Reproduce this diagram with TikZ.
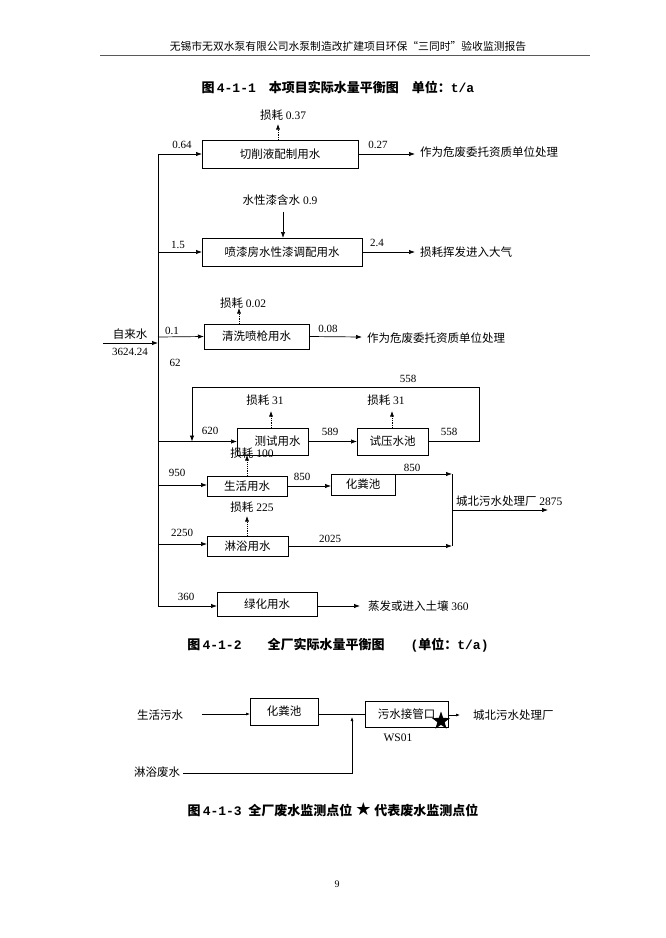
\documentclass[tikz,border=0pt]{standalone}
\usepackage{fontspec}
\setmainfont{Liberation Serif}
\newfontfamily\cjk{Noto Sans CJK SC}
\newfontfamily\monofnt{Liberation Mono}
\newfontfamily\symfnt{DejaVu Sans}
\usetikzlibrary{arrows.meta,shapes.geometric}
\newcommand\zh[1]{{\cjk #1}}
\begin{document}
\begin{tikzpicture}[x=1pt,y=-1pt,
  every node/.style={inner sep=0pt,outer sep=0pt,font=\fontsize{11.5}{13}\selectfont},
  box/.style={draw,line width=0.8pt,font=\cjk\fontsize{11.5}{13}\selectfont},
  flow/.style={line width=0.7pt,-{Latex[length=6pt,width=4.4pt]}},
  plain/.style={line width=0.7pt},
  loss/.style={line width=0.6pt,dash pattern=on 1.2pt off 1pt,-{Latex[length=5.5pt,width=4pt]}},
  lbl/.style={font=\fontsize{11}{12}\selectfont},
  zhs/.style={font=\cjk\fontsize{11.5}{13}\selectfont},
  ttl/.style={font=\cjk\bfseries\fontsize{13}{15}\selectfont}]
\useasboundingbox[fill=white] (0,0) rectangle (665,938);

% header
\node[font=\cjk\fontsize{10.8}{12}\selectfont] (hdr) at (348,46) {无锡市无双水泵有限公司水泵制造改扩建项目环保“三同时”验收监测报告};
\coordinate (hl) at (100,55); \coordinate (hr) at (590,55);
\draw[line width=0.8pt,gray!70!black] (hl) -- (hr);

% title 1
\node[ttl] (t1) at (338,87) {图{\monofnt\bfseries\,4-1-1}\quad 本项目实际水量平衡图\quad 单位：{\monofnt\bfseries t/a}};

% trunk
\coordinate (tTop) at (158,154);
\coordinate (tBot) at (158,607);
\draw[plain] (tTop) -- (tBot);

% boxes
\node[box,minimum width=156,minimum height=28] (b1) at (280,154) {切削液配制用水};
\node[box,minimum width=160,minimum height=28] (b2) at (282,252) {喷漆房水性漆调配用水};
\node[box,minimum width=105,minimum height=25] (b3) at (256.5,336.5) {清洗喷枪用水};
\node[box,minimum width=71,minimum height=27] (bt) at (272.5,441.5) {\hspace{10pt}测试用水};
\node[box,minimum width=71,minimum height=27] (bp) at (392.5,441.5) {试压水池};
\node[box,minimum width=80,minimum height=20] (bl) at (247,486) {生活用水};
\node[box,minimum width=64,minimum height=21] (bs) at (363,484.5) {化粪池};
\node[box,minimum width=81,minimum height=20] (bw) at (247.5,546) {淋浴用水};
\node[box,minimum width=100,minimum height=24] (bg) at (267,604) {绿化用水};

% row 1
\coordinate (r1) at (158,154);
\draw[flow] (r1) -- (b1.west);
\node[lbl] (l064) at (182,145) {0.64};
\coordinate (o1) at (415,154);
\draw[flow] (b1.east) -- (o1);
\node[lbl] (l027) at (378,145) {0.27};
\node[anchor=west,zhs] (d1) at (420,152) {作为危废委托资质单位处理};
\node (s1) at (283,115) {\zh{损耗} 0.37};
\draw[loss] (b1.north -| 278,0) -- (278,124);

% row 2
\node (w2) at (280,200) {\zh{水性漆含水} 0.9};
\draw[flow] (283,212) -- (b2.north -| 283,0);
\coordinate (r2) at (158,252);
\draw[flow] (r2) -- (b2.west);
\node[lbl] (l15) at (178,245) {1.5};
\coordinate (o2) at (415,252);
\draw[flow] (b2.east) -- (o2);
\node[lbl] (l24) at (377,243) {2.4};
\node[anchor=west,zhs] (d2) at (420,252) {损耗挥发进入大气};

% source
\node[zhs] (src) at (130,334) {自来水};
\node[lbl] (srcv) at (130,352) {3624.24};
\coordinate (srcS) at (103,343);
\coordinate (srcT) at (158,343);
\draw[flow] (srcS) -- (srcT);

% row 3
\coordinate (r3) at (158,337);
\draw[flow] (r3) -- (b3.west);
\node[lbl] (l01) at (172,331) {0.1};
\node (s3) at (243,303) {\zh{损耗} 0.02};
\draw[loss] (b3.north -| 239,0) -- (239,308);
\coordinate (o3) at (362,337);
\draw[flow] (b3.east) -- (o3);
\node[lbl] (l008) at (328,329) {0.08};
\node[anchor=west,zhs] (d3) at (367,338) {作为危废委托资质单位处理};
\node[lbl] (l62) at (175,363) {62};

% test loop
\coordinate (rt) at (158,441.5);
\draw[flow] (rt) -- (bt.west);
\node[lbl] (l620) at (210,431) {620};
\draw[flow] (bt.east) -- (bp.west);
\node[lbl] (l589) at (330,432) {589};
\coordinate (lpA) at (479,441.5);
\coordinate (lpB) at (479,387);
\coordinate (lpC) at (192,387);
\coordinate (lpD) at (192,441.5);
\draw[flow] (bp.east) -- (lpA) -- (lpB) -- (lpC) -- (lpD);
\node[lbl] (l558a) at (449,432) {558};
\node[lbl] (l558b) at (408,379) {558};
\node (s31a) at (265,400) {\zh{损耗} 31};
\draw[loss] (bt.north -| 271,0) -- (271,411);
\node (s31b) at (386,400) {\zh{损耗} 31};
\draw[loss] (bp.north -| 392,0) -- (392,411);

% life water
\coordinate (rl) at (158,485);
\draw[flow] (rl) -- (bl.west |- rl);
\node[lbl] (l950) at (177,473) {950};
\draw[loss] (bl.north -| 247,0) -- (bt.south -| 247,0);
\node (s100) at (252,453) {\zh{损耗} 100};
\draw[flow] (bl.east |- 0,486) -- (bs.west |- 0,486);
\node[lbl] (l850a) at (302,477) {850};
\coordinate (jTop) at (452,474);
\coordinate (jBot) at (452,546);
\draw[flow] (bs.north east) -- (jTop);
\node[lbl] (l850b) at (412,468) {850};

% shower
\coordinate (rw) at (158,544);
\draw[flow] (rw) -- (bw.west |- rw);
\node[lbl] (l2250) at (182,533) {2250};
\node (s225) at (252,507) {\zh{损耗} 225};
\draw[loss] (bw.north -| 247,0) -- (247,516);
\draw[flow] (bw.east) -- (jBot);
\node[lbl] (l2025) at (330,539) {2025};
\draw[plain] (jTop) -- (jBot);
\coordinate (jMid) at (452,510);
\coordinate (oJ) at (548,510);
\draw[flow] (jMid) -- (oJ);
\node[anchor=west] (dJ) at (456,501) {\zh{城北污水处理厂} 2875};

% green
\coordinate (rg) at (158,606);
\draw[flow] (rg) -- (bg.west |- rg);
\node[lbl] (l360) at (186,597) {360};
\coordinate (og) at (360,606);
\draw[flow] (bg.east |- og) -- (og);
\node[anchor=west] (dg) at (368,606) {\zh{蒸发或进入土壤} 360};

% title 2
\node[ttl] (t2) at (338,645) {图{\monofnt\bfseries\,4-1-2}\qquad 全厂实际水量平衡图\qquad{\monofnt\bfseries(}单位：{\monofnt\bfseries t/a)}};

% diagram 2
\node[zhs] (ls) at (160,715) {生活污水};
\node[box,minimum width=68,minimum height=27] (c1) at (284,711.5) {化粪池};
\node[box,minimum width=83,minimum height=26] (c2) at (406.5,714) {污水接管口\hspace{8pt}};
\coordinate (lsS) at (202,714);
\draw[line width=0.6pt,-{Latex[length=4pt,width=3pt]}] (lsS) -- (c1.west |- lsS);
\draw[plain] (c1.east |- 0,714) -- (c2.west |- 0,714);
\coordinate (oc) at (460,715);
\draw[line width=0.6pt,-{Latex[length=4pt,width=3pt]}] (c2.east |- oc) -- (oc);
\node[anchor=west,zhs] (dc) at (473,715) {城北污水处理厂};
\node[star,star points=5,star point ratio=2.5,fill=black,minimum size=19pt] (st) at (441,721) {};
\node (ws) at (398,738) {WS01};
\node[zhs] (lw) at (157,772) {淋浴废水};
\coordinate (lwS) at (183,773);
\coordinate (lwC) at (352,773);
\coordinate (lwT) at (352,717);
\draw[line width=0.6pt,-{Latex[length=4pt,width=3pt]}] (lwS) -- (lwC) -- (lwT);

% title 3
\node[ttl] (t3) at (333,810) {图{\monofnt\bfseries\,4-1-3}\enspace 全厂废水监测点位 {\symfnt\fontsize{18}{18}\selectfont ★} 代表废水监测点位};

% page number
\node[font=\fontsize{10}{12}\selectfont] (pg) at (337,884) {9};
\end{tikzpicture}
\end{document}
